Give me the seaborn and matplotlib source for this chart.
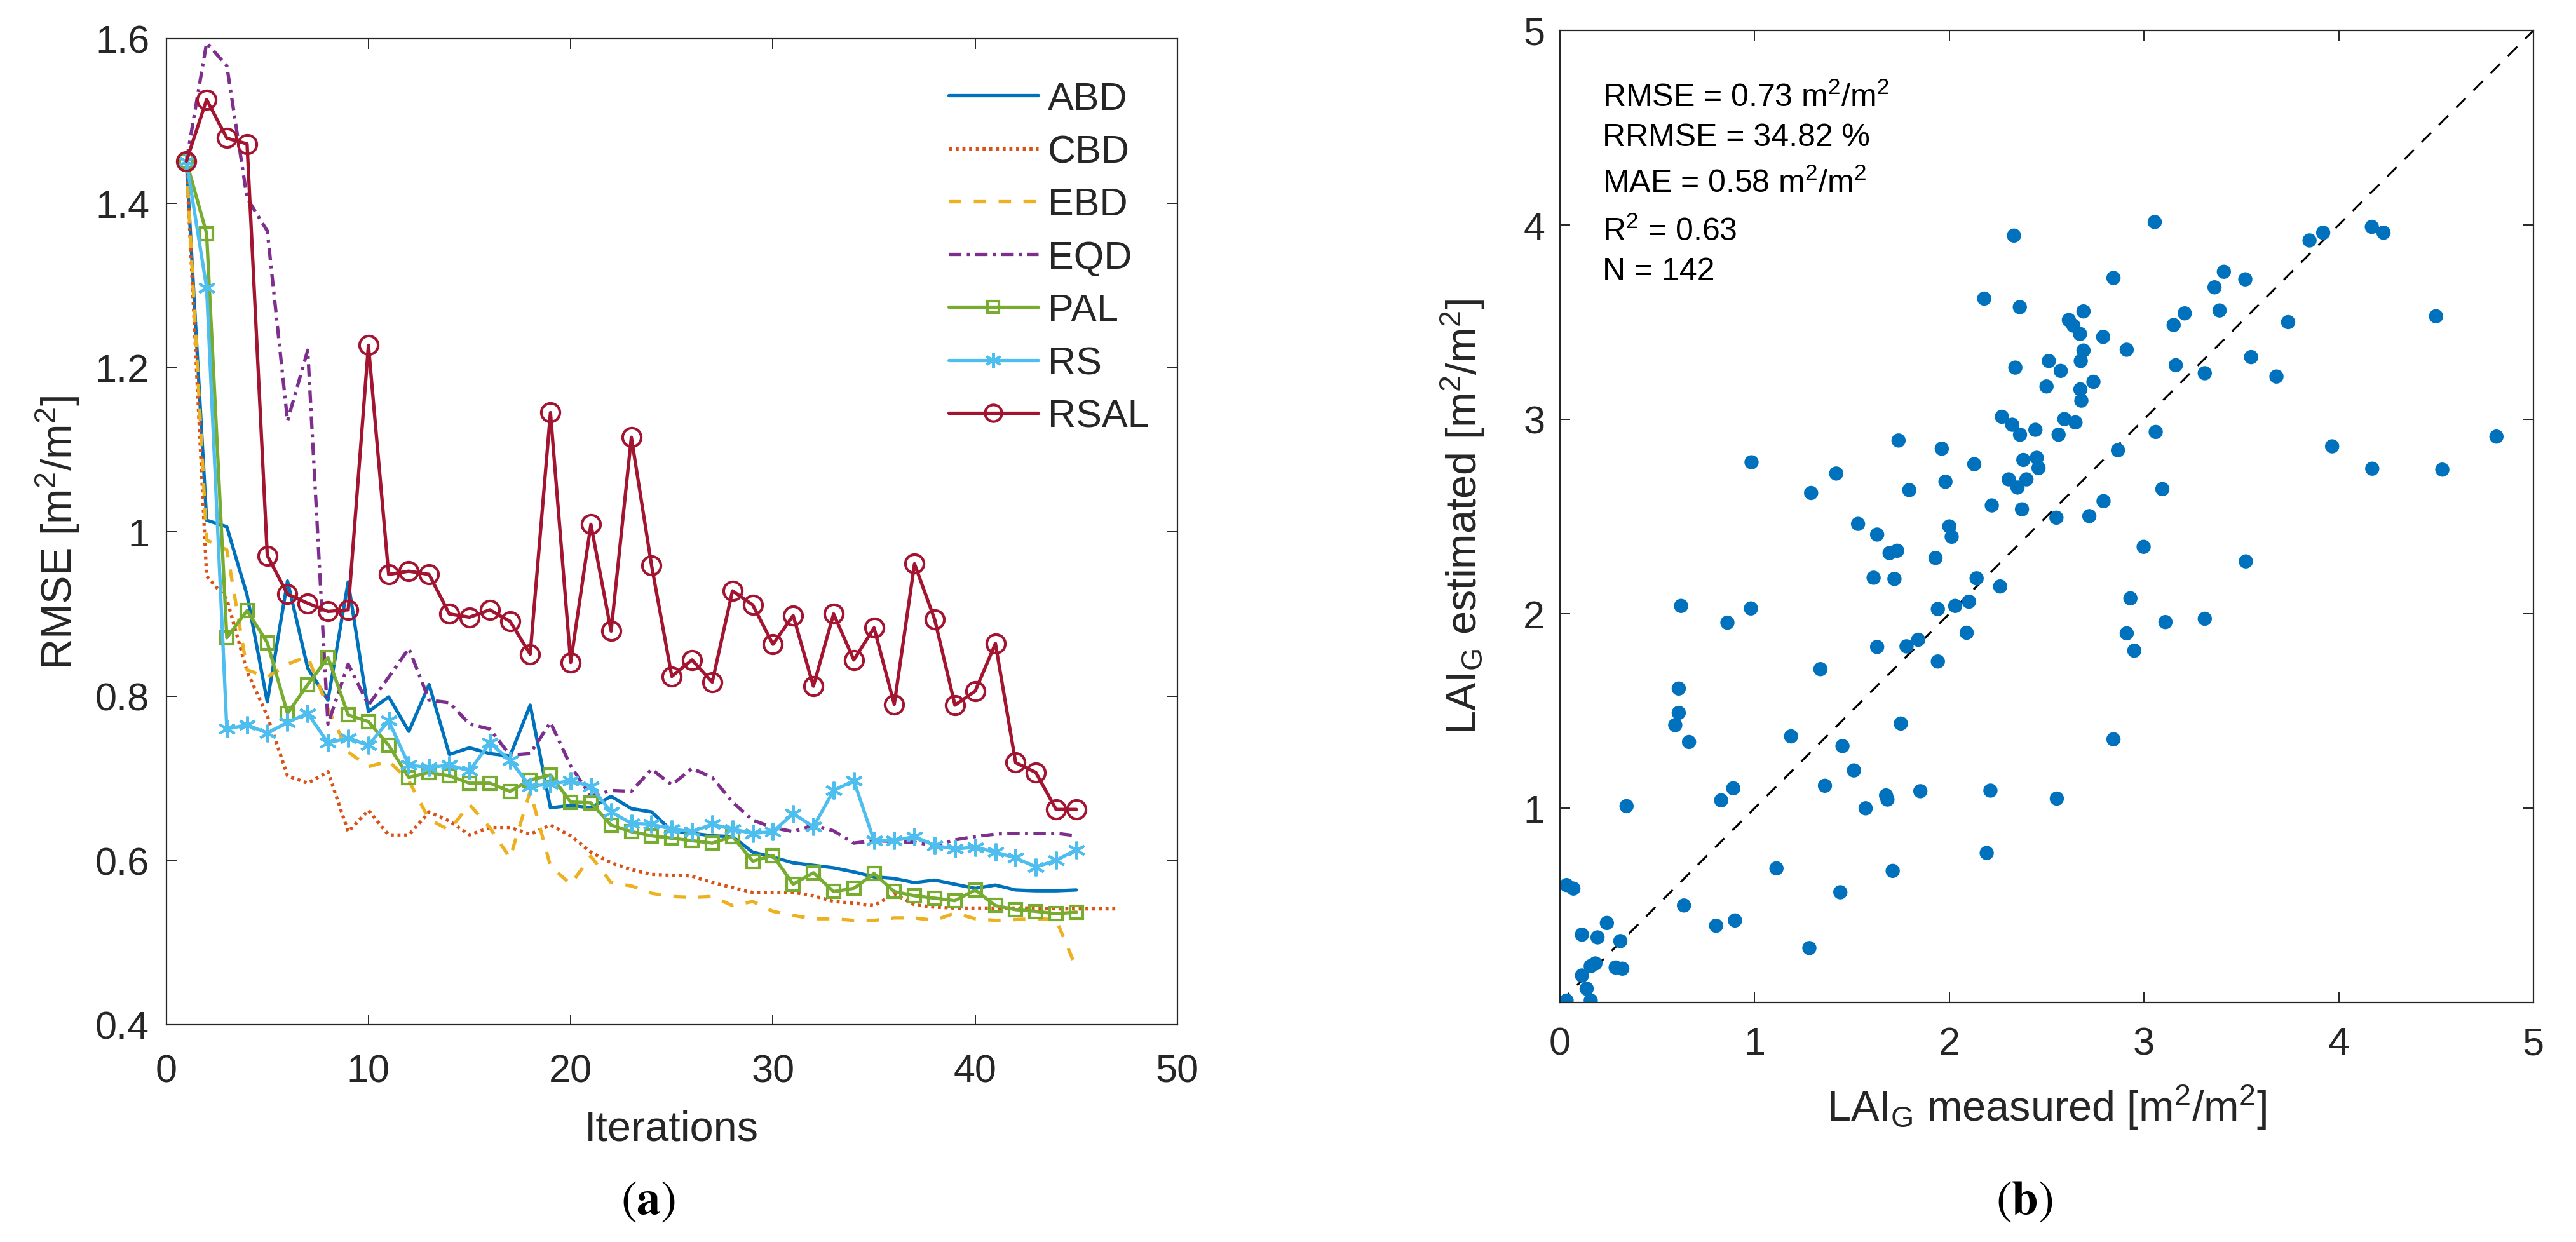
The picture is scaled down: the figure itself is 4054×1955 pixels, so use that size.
import numpy as np
import pandas as pd
import matplotlib
matplotlib.use("Agg")
import matplotlib.pyplot as plt
import seaborn as sns
from matplotlib.lines import Line2D

# ---------------- data: panel (a) ----------------
abd = [1.451, 1.014, 1.006, 0.923, 0.793, 0.940, 0.834, 0.795, 0.939, 0.781,
       0.799, 0.757, 0.814, 0.729, 0.737, 0.730, 0.727, 0.789, 0.664, 0.667,
       0.664, 0.678, 0.663, 0.659, 0.636, 0.633, 0.630, 0.629, 0.610, 0.604,
       0.597, 0.594, 0.591, 0.586, 0.580, 0.578, 0.573, 0.576, 0.571, 0.566,
       0.570, 0.564, 0.563, 0.563, 0.564]
cbd = [1.451, 0.946, 0.918, 0.830, 0.776, 0.703, 0.694, 0.708, 0.635, 0.661,
       0.631, 0.631, 0.659, 0.648, 0.631, 0.640, 0.640, 0.632, 0.643, 0.630,
       0.610, 0.597, 0.589, 0.583, 0.582, 0.581, 0.573, 0.567, 0.561, 0.561,
       0.561, 0.557, 0.550, 0.548, 0.545, 0.559, 0.546, 0.543, 0.542, 0.542,
       0.542, 0.542, 0.542, 0.541, 0.541, 0.541, 0.541]
ebd = [1.451, 0.990, 0.978, 0.832, 0.823, 0.839, 0.848, 0.785, 0.732, 0.714,
       0.721, 0.697, 0.650, 0.637, 0.668, 0.640, 0.603, 0.684, 0.593, 0.571,
       0.605, 0.573, 0.569, 0.560, 0.556, 0.555, 0.556, 0.545, 0.550, 0.538,
       0.533, 0.529, 0.529, 0.527, 0.527, 0.530, 0.530, 0.527, 0.536, 0.529,
       0.527, 0.528, 0.529, 0.528, 0.469]
eqd = [1.451, 1.595, 1.567, 1.406, 1.366, 1.135, 1.221, 0.766, 0.839, 0.789,
       0.823, 0.858, 0.795, 0.792, 0.766, 0.760, 0.728, 0.730, 0.768, 0.715,
       0.678, 0.685, 0.684, 0.711, 0.692, 0.712, 0.701, 0.671, 0.649, 0.640,
       0.635, 0.643, 0.636, 0.621, 0.624, 0.623, 0.622, 0.618, 0.625, 0.629,
       0.632, 0.633, 0.633, 0.633, 0.630]
pal = [1.451, 1.363, 0.871, 0.904, 0.865, 0.779, 0.814, 0.847, 0.777, 0.769,
       0.740, 0.701, 0.707, 0.703, 0.694, 0.694, 0.684, 0.698, 0.704, 0.671,
       0.670, 0.643, 0.635, 0.630, 0.627, 0.624, 0.621, 0.629, 0.599, 0.606,
       0.571, 0.585, 0.562, 0.566, 0.584, 0.562, 0.557, 0.554, 0.551, 0.564,
       0.545, 0.540, 0.538, 0.535, 0.537]
rs = [1.451, 1.297, 0.760, 0.765, 0.755, 0.768, 0.779, 0.743, 0.749, 0.740,
      0.770, 0.716, 0.713, 0.716, 0.709, 0.743, 0.722, 0.690, 0.693, 0.697,
      0.690, 0.659, 0.645, 0.644, 0.638, 0.635, 0.644, 0.638, 0.633, 0.635,
      0.657, 0.641, 0.685, 0.697, 0.624, 0.624, 0.629, 0.618, 0.614, 0.616,
      0.610, 0.603, 0.592, 0.600, 0.613]
rsal = [1.451, 1.526, 1.479, 1.472, 0.971, 0.924, 0.913, 0.903, 0.905, 1.227,
        0.948, 0.952, 0.948, 0.900, 0.896, 0.905, 0.891, 0.851, 1.145, 0.841,
        1.009, 0.879, 1.115, 0.959, 0.824, 0.844, 0.817, 0.928, 0.911, 0.863,
        0.898, 0.812, 0.900, 0.844, 0.883, 0.790, 0.961, 0.893, 0.789, 0.806,
        0.864, 0.719, 0.707, 0.662, 0.662]
method_names = ["ABD", "CBD", "EBD", "EQD", "PAL", "RS", "RSAL"]

# ---------------- data: panel (b) ----------------
lai_measured = [
    2.332, 3.055, 2.179, 2.362, 2.843, 3.362, 3.410, 2.689, 2.614, 2.637,
    2.671, 2.790, 2.911, 3.152, 3.209, 3.388, 2.339, 2.511, 2.572, 2.689,
    2.675, 2.740, 2.499, 2.673, 2.678, 3.163, 3.312, 2.270, 2.323, 2.363,
    2.442, 2.561, 2.591, 2.648, 3.060, 1.739, 1.961, 0.984, 1.419, 2.128,
    2.449, 2.458, 2.380, 2.305, 2.350, 2.396, 1.980, 1.290, 1.794, 2.866,
    3.094, 2.792, 2.218, 2.373, 2.550, 2.719, 1.531, 1.629, 2.000, 2.012,
    1.693, 1.732, 1.929, 2.998, 1.611, 1.718, 2.140, 2.261, 0.622, 0.981,
    1.941, 2.030, 2.101, 2.930, 0.860, 3.110, 3.312, 2.089, 1.840, 1.780,
    1.629, 2.911, 2.950, 1.941, 1.338, 0.610, 0.610, 0.592, 0.663, 1.187,
    1.751, 1.451, 2.843, 1.510, 1.361, 0.890, 0.828, 0.342, 1.570, 1.675,
    1.682, 1.851, 2.211, 2.552, 2.192, 1.112, 1.709, 3.523, 3.966, 4.172,
    4.532, 4.810, 0.034, 0.069, 1.440, 0.637, 0.802, 0.899, 1.281, 0.241,
    0.113, 0.193, 0.310, 0.158, 0.182, 0.113, 0.286, 0.320, 0.137, 0.034,
    0.158, 3.520, 3.550, 3.680, 3.740, 3.850, 3.920, 4.170, 4.230, 4.500]
lai_estimated = [
    3.945, 4.015, 3.621, 3.577, 3.727, 3.679, 3.759, 3.555, 3.511, 3.482,
    3.439, 3.424, 3.358, 3.485, 3.545, 3.560, 3.266, 3.300, 3.249, 3.354,
    3.300, 3.193, 3.169, 3.154, 3.096, 3.278, 3.237, 3.013, 2.972, 2.921,
    2.946, 2.921, 3.001, 2.984, 2.935, 2.891, 2.849, 2.779, 2.721, 2.769,
    2.802, 2.749, 2.791, 2.691, 2.649, 2.691, 2.679, 2.621, 2.636, 2.841,
    2.641, 2.579, 2.557, 2.537, 2.494, 2.502, 2.462, 2.407, 2.449, 2.396,
    2.312, 2.324, 2.287, 2.344, 2.185, 2.179, 2.182, 2.140, 2.040, 2.027,
    2.024, 2.040, 2.062, 2.079, 1.954, 1.957, 1.974, 1.902, 1.866, 1.832,
    1.829, 1.899, 1.810, 1.754, 1.715, 1.615, 1.490, 1.427, 1.340, 1.369,
    1.435, 1.319, 1.354, 1.194, 1.115, 1.102, 1.040, 1.010, 0.999, 1.065,
    1.044, 1.087, 1.090, 1.049, 0.769, 0.690, 0.677, 2.269, 2.861, 2.746,
    2.741, 2.911, 0.604, 0.586, 0.567, 0.499, 0.395, 0.422, 0.280, 0.409,
    0.349, 0.335, 0.316, 0.187, 0.201, 0.139, 0.180, 0.174, 0.071, 0.010,
    0.010, 3.720, 3.320, 3.220, 3.500, 3.920, 3.960, 3.990, 3.960, 3.530]
stats_lines = [r"RMSE = 0.73 m$^2$/m$^2$", "RRMSE = 34.82 %",
               r"MAE = 0.58 m$^2$/m$^2$", r"R$^2$ = 0.63", "N = 142"]

# ---------------- style ----------------
sns.set_style("ticks")
plt.rcParams["font.family"] = ["Liberation Sans", "DejaVu Sans"]
plt.rcParams["mathtext.fontset"] = "custom"
plt.rcParams["mathtext.rm"] = "Liberation Sans"
plt.rcParams["mathtext.it"] = "Liberation Sans:italic"
plt.rcParams["mathtext.bf"] = "Liberation Sans:bold"

DARK = "#262626"
W, H = 4055, 1956
fig = plt.figure(figsize=(W / 100, H / 100), dpi=100)

def frac(x0, y0, x1, y1):
    return [x0 / W, 1 - y1 / H, (x1 - x0) / W, (y1 - y0) / H]

ax1 = fig.add_axes(frac(261.5, 62, 1853, 1614))
ax2 = fig.add_axes(frac(2455, 49, 3987, 1579))

for ax in (ax1, ax2):
    for sp in ax.spines.values():
        sp.set_visible(True)
        sp.set_linewidth(1.6)
        sp.set_color(DARK)
    ax.tick_params(direction="in", length=11.5, width=1.4, top=True, right=True,
                   labelsize=44, colors=DARK)
    ax.set_facecolor("white")

# ---------------- panel (a) ----------------
colors = {"ABD": "#0072BD", "CBD": "#D95319", "EBD": "#EDB120", "EQD": "#7E2F8E",
          "PAL": "#77AC30", "RS": "#4DBEEE", "RSAL": "#A2142F"}
series = {"ABD": abd, "CBD": cbd, "EBD": ebd, "EQD": eqd, "PAL": pal, "RS": rs, "RSAL": rsal}
styles = {
    "ABD": dict(linestyle="-", marker=None),
    "CBD": dict(linestyle=(0, (0.9, 1.1)), marker=None),
    "EBD": dict(linestyle=(0, (3.7, 3.7)), marker=None),
    "EQD": dict(linestyle=(0, (3.7, 1.6, 0.9, 1.6)), marker=None),
    "PAL": dict(linestyle="-", marker="s", markersize=15),
    "RS": dict(linestyle="-", marker=(6, 2, 0), markersize=20),
    "RSAL": dict(linestyle="-", marker="o", markersize=21),
}
handles = []
for name in method_names:
    vals = series[name]
    df = pd.DataFrame({"Iterations": np.arange(1, len(vals) + 1), "RMSE": vals})
    st = styles[name]
    kw = dict(linewidth=3.8, color=colors[name], linestyle=st["linestyle"])
    if st["marker"] is not None:
        kw.update(marker=st["marker"], markersize=st["markersize"],
                  markerfacecolor="none", markeredgecolor=colors[name],
                  markeredgewidth=3.0)
    sns.lineplot(data=df, x="Iterations", y="RMSE", ax=ax1, legend=False,
                 estimator=None, sort=False, **kw)
    hk = dict(kw)
    if "markersize" in hk:
        hk["markersize"] = hk["markersize"] * 0.9
    handles.append(Line2D([], [], label=name, **hk))

ax1.set_xlim(0, 50)
ax1.set_ylim(0.4, 1.6)
ax1.set_xticks([0, 10, 20, 30, 40, 50])
ax1.set_yticks([0.4, 0.6, 0.8, 1.0, 1.2, 1.4, 1.6])
ax1.set_yticklabels(["0.4", "0.6", "0.8", "1", "1.2", "1.4", "1.6"])
ax1.tick_params(axis="x", pad=33)
ax1.tick_params(axis="y", pad=19)
ax1.set_xlabel("Iterations", fontsize=48, color=DARK)
ax1.set_ylabel(r"RMSE [m$^2$/m$^2$]", fontsize=48, color=DARK)
ax1.xaxis.set_label_coords(0.5, -0.086)
ax1.yaxis.set_label_coords(-0.083, 0.5)
leg = ax1.legend(handles=handles, loc="upper right", bbox_to_anchor=(0.972, 0.957),
                 frameon=False, fontsize=44, handlelength=2.3, handletextpad=0.25,
                 labelspacing=0.43, borderpad=0, borderaxespad=0)

# ---------------- panel (b) ----------------
dfb = pd.DataFrame({"measured": lai_measured, "estimated": lai_estimated})
ax2.plot([0, 5], [0, 5], color="black", linewidth=2.3, linestyle=(0, (6.5, 5.5)), zorder=1)
sns.scatterplot(data=dfb, x="measured", y="estimated", ax=ax2, color="#0072BD",
                s=260, linewidth=0, edgecolor="none", zorder=2, legend=False)
ax2.set_xlim(0, 5)
ax2.set_ylim(0, 5)
ax2.set_xticks([0, 1, 2, 3, 4, 5])
ax2.set_yticks([1, 2, 3, 4, 5])
ax2.tick_params(axis="x", pad=27)
ax2.tick_params(axis="y", pad=17)
ax2.set_xlabel(r"LAI$_\mathrm{G}$ measured [m$^2$/m$^2$]", fontsize=48, color=DARK)
ax2.set_ylabel(r"LAI$_\mathrm{G}$ estimated [m$^2$/m$^2$]", fontsize=48, color=DARK)
ax2.xaxis.set_label_coords(0.5, -0.083)
ax2.yaxis.set_label_coords(-0.075, 0.5)

ybases = [0.922, 0.882, 0.834, 0.784, 0.744]
for txt, yb in zip(stats_lines, ybases):
    ax2.text(0.044, yb, txt, transform=ax2.transAxes, fontsize=36, color="black",
             ha="left", va="baseline")

# ---------------- captions ----------------
fig.text(1020 / W, 1 - 1892 / H, r"$(\mathbf{a})$", math_fontfamily="stix",
         fontsize=54, ha="center", va="center", color="black")
fig.text(3186 / W, 1 - 1892 / H, r"$(\mathbf{b})$", math_fontfamily="stix",
         fontsize=54, ha="center", va="center", color="black")

fig.savefig("out.png", dpi=100, facecolor="white")
